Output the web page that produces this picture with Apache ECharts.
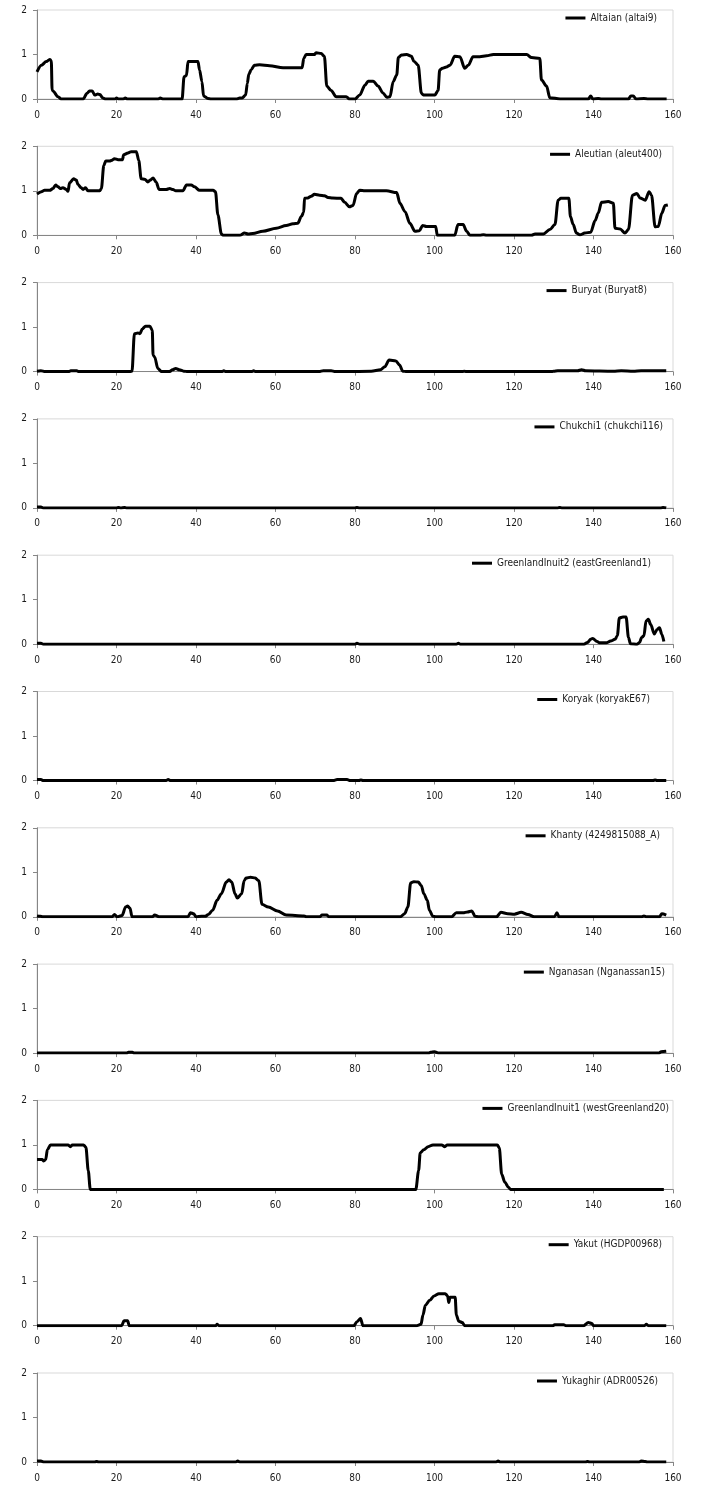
<!DOCTYPE html>
<html>
<head>
<meta charset="utf-8">
<script src="https://cdn.jsdelivr.net/npm/echarts@6/dist/echarts.min.js"></script>
<style>
  html, body { margin: 0; padding: 0; background: #fff; }
  #chart { width: 701px; height: 1488px; }
</style>
</head>
<body>
<div id="chart"></div>
<script>
// axis ranges
const X_MIN = 0, X_MAX = 160, X_STEP = 20;
const Y_MIN = 0, Y_MAX = 2, Y_STEP = 1;

const seriesNames = [
  'Altaian (altai9)',
  'Aleutian (aleut400)',
  'Buryat (Buryat8)',
  'Chukchi1 (chukchi116)',
  'GreenlandInuit2 (eastGreenland1)',
  'Koryak (koryakE67)',
  'Khanty (4249815088_A)',
  'Nganasan (Nganassan15)',
  'GreenlandInuit1 (westGreenland20)',
  'Yakut (HGDP00968)',
  'Yukaghir (ADR00526)'
];

// [position, value]
const altaian = [
  [0, 0.61], [1.1, 0.76], [2.35, 0.84], [3.2, 0.89], [3.6, 0.86], [3.8, 0.2], [4.0, 0.18], [5.3, 0.05], [6.1, 0],
  [11.6, 0], [12.6, 0.13], [13.2, 0.18], [13.9, 0.18], [14.5, 0.09], [15.3, 0.11], [15.8, 0.1], [16.6, 0.02], [17.3, 0],
  [19.6, 0], [20, 0.02], [20.5, 0], [21.7, 0], [22.2, 0.02], [22.8, 0], [30.5, 0], [31, 0.02], [31.8, 0],
  [36.5, 0], [37.0, 0.5], [37.6, 0.53], [38.0, 0.84], [40.5, 0.84], [40.9, 0.65], [41.5, 0.39], [41.9, 0.07], [43.0, 0.01], [43.8, 0],
  [50.1, 0], [51.0, 0.02], [51.6, 0.02], [52.5, 0.09], [52.9, 0.35], [53.3, 0.56], [53.9, 0.66], [54.7, 0.76], [56.0, 0.77],
  [58.5, 0.75], [61.9, 0.7], [66.7, 0.7], [67.1, 0.91], [67.7, 1.0], [69.8, 1.0], [70.2, 1.04], [71.5, 1.02], [72.3, 0.96],
  [72.9, 0.29], [74.0, 0.19], [75.3, 0.05], [77.8, 0.05], [78.6, 0], [80.0, 0], [81.2, 0.09], [82.5, 0.31], [83.3, 0.4],
  [84.6, 0.4], [85.8, 0.29], [87.1, 0.13], [88.0, 0.04], [88.8, 0.05], [89.6, 0.39], [90.5, 0.54], [90.9, 0.93], [91.7, 0.99],
  [93.0, 1.0], [94.2, 0.96], [94.8, 0.85], [95.9, 0.76], [96.7, 0.13], [97.2, 0.09], [100.1, 0.09], [100.9, 0.19], [101.3, 0.65],
  [102.0, 0.69], [103.0, 0.72], [103.9, 0.76], [105.1, 0.96], [106.4, 0.95], [107.6, 0.69], [108.5, 0.76], [109.7, 0.95],
  [111.4, 0.95], [113.1, 0.97], [114.8, 1.0], [123.2, 1.0], [124.4, 0.93], [126.5, 0.91], [126.9, 0.43], [128.2, 0.29],
  [129.0, 0.03], [131.6, 0], [138.7, 0], [139.3, 0.07], [139.8, 0], [141.2, 0.01], [142, 0], [148.8, 0], [149.4, 0.07],
  [150.0, 0.07], [150.7, 0], [152.7, 0.01], [153.8, 0], [158.4, 0]
];

const aleutian = [
  [0, 0.93], [1.1, 0.98], [1.9, 1.01], [3.2, 1.01], [4.0, 1.05], [4.7, 1.13], [5.3, 1.09], [5.9, 1.05], [6.5, 1.07],
  [7.4, 1.03], [7.8, 0.99], [8.2, 1.18], [9.2, 1.27], [9.9, 1.24], [10.3, 1.14], [11.1, 1.07], [11.6, 1.03], [12.2, 1.07],
  [12.8, 1.0], [15.8, 1.0], [16.2, 1.05], [16.8, 1.57], [17.3, 1.67], [18.3, 1.67], [18.7, 1.68], [19.5, 1.72], [20.4, 1.7],
  [21.5, 1.7], [21.8, 1.81], [22.9, 1.85], [23.7, 1.88], [25.0, 1.88], [25.6, 1.68], [26.2, 1.27], [27.1, 1.26], [27.9, 1.2],
  [28.5, 1.24], [29.2, 1.29], [30.0, 1.19], [30.7, 1.03], [32.5, 1.03], [33.4, 1.05], [34.2, 1.03], [34.9, 1.0], [36.7, 1.0],
  [37.6, 1.13], [38.8, 1.13], [39.6, 1.09], [40.9, 1.01], [44.3, 1.01], [44.9, 0.98], [45.5, 0.46], [46.4, 0.03], [46.8, 0],
  [51.0, 0], [52.2, 0.05], [53.1, 0.03], [54.3, 0.04], [56.8, 0.09], [60.2, 0.16], [62.7, 0.22], [64.4, 0.26], [65.6, 0.27],
  [66.5, 0.42], [67.1, 0.52], [67.3, 0.83], [68.1, 0.84], [69.0, 0.88], [69.8, 0.92], [71.1, 0.9], [72.3, 0.89], [73.2, 0.85],
  [74.4, 0.84], [76.5, 0.83], [77.4, 0.74], [78.6, 0.64], [79.5, 0.67], [80.4, 0.94], [81.2, 1.01], [82.5, 1.0], [87.9, 1.0],
  [90.5, 0.96], [91.3, 0.72], [92.6, 0.53], [93.8, 0.27], [95.1, 0.09], [96.2, 0.1], [97.0, 0.22], [98.0, 0.2], [100.3, 0.2],
  [100.7, 0], [105.1, 0], [105.9, 0.24], [107.2, 0.24], [108.1, 0.09], [108.9, 0], [111.4, 0], [112.3, 0.01], [113.1, 0],
  [124.4, 0], [125.3, 0.03], [127.4, 0.03], [129.0, 0.13], [130.3, 0.24], [131.1, 0.79], [131.8, 0.83], [133.8, 0.83],
  [134.2, 0.42], [134.9, 0.24], [135.7, 0.05], [136.6, 0.01], [137.8, 0.05], [139.3, 0.07], [140.4, 0.33], [141.2, 0.5],
  [142.0, 0.74], [143.7, 0.76], [145.0, 0.72], [145.4, 0.16], [146.7, 0.14], [147.9, 0.05], [148.8, 0.13], [149.8, 0.9],
  [150.9, 0.94], [151.7, 0.84], [153.0, 0.79], [154.0, 0.98], [154.6, 0.9], [155.5, 0.19], [156.3, 0.2], [157.2, 0.5],
  [158.0, 0.67], [158.7, 0.68]
];

const buryat = [
  [0, 0.01], [1, 0.02], [2, 0], [8, 0], [8.5, 0.02], [10, 0.02], [10.5, 0], [23.4, 0], [23.9, 0.01], [24.5, 0.85],
  [25.4, 0.87], [25.9, 0.85], [26.5, 0.96], [27.3, 1.02], [28.4, 1.02], [29.0, 0.93], [29.2, 0.37], [29.6, 0.33],
  [30.4, 0.07], [31.3, 0], [33.3, 0], [34.1, 0.04], [34.9, 0.07], [35.8, 0.04], [36.9, 0.01], [38, 0], [46.5, 0],
  [47, 0.02], [47.5, 0], [54, 0], [54.5, 0.02], [55, 0], [71, 0], [72, 0.02], [74, 0.02], [75, 0], [84.1, 0.01],
  [86.4, 0.04], [87.5, 0.11], [88.6, 0.26], [90.3, 0.24], [91.2, 0.15], [92.0, 0.01], [93.1, 0], [107, 0], [107.5, 0.01],
  [108, 0], [129.5, 0], [130, 0.01], [131, 0.02], [136, 0.02], [137, 0.04], [138, 0.02], [145, 0.01], [147, 0.02], [150, 0.01],
  [152, 0.02], [155, 0.02], [158.3, 0.02]
];

const chukchi = [
  [0, 0.02], [1, 0.02], [1.6, 0], [20, 0], [20.5, 0.01], [21, 0], [22, 0.01], [22.5, 0], [80, 0], [80.5, 0.01], [81, 0],
  [131, 0], [131.5, 0.01], [132, 0], [157, 0], [157.5, 0.01], [158.3, 0]
];

const eastGreenland = [
  [0, 0.02], [1, 0.02], [1.6, 0], [80, 0], [80.5, 0.02], [81.2, 0], [105.5, 0], [106, 0.02], [106.5, 0], [137.6, 0],
  [138.5, 0.04], [139.3, 0.11], [139.8, 0.13], [140.9, 0.06], [141.5, 0.03], [143.2, 0.03], [144.3, 0.07], [145.4, 0.11],
  [146.0, 0.19], [146.5, 0.59], [147.4, 0.61], [148.2, 0.61], [148.8, 0.15], [149.3, 0.01], [151.0, 0], [151.6, 0.04],
  [152.1, 0.15], [152.7, 0.19], [153.2, 0.52], [153.8, 0.56], [154.4, 0.44], [155.3, 0.23], [156.0, 0.33], [156.6, 0.37],
  [157.2, 0.22], [157.7, 0.06]
];

const koryak = [
  [0, 0.02], [1, 0.02], [1.6, 0], [32.5, 0], [33, 0.02], [33.6, 0], [74.5, 0], [75.5, 0.02], [78, 0.02], [78.8, 0],
  [81, 0], [81.5, 0.01], [82, 0], [155, 0], [155.5, 0.01], [156, 0], [158.3, 0]
];

const khanty = [
  [0, 0.02], [0.8, 0.01], [1.5, 0], [18.9, 0], [19.5, 0.05], [20.2, 0], [21.4, 0.03], [22.3, 0.22], [22.8, 0.24],
  [23.4, 0.19], [23.9, 0], [29.0, 0], [29.6, 0.04], [30.7, 0], [38.0, 0], [38.6, 0.09], [39.4, 0.07], [40.0, 0],
  [41.4, 0.01], [42.3, 0.01], [43.1, 0.05], [44.2, 0.15], [45.3, 0.37], [46.4, 0.52], [47.6, 0.78], [48.3, 0.83],
  [49.0, 0.78], [49.8, 0.52], [50.4, 0.42], [51.5, 0.52], [52.1, 0.81], [52.6, 0.87], [53.7, 0.89], [54.9, 0.87],
  [55.8, 0.81], [56.6, 0.28], [58.2, 0.22], [60.5, 0.13], [62.7, 0.04], [67.2, 0.02], [67.8, 0], [71.2, 0], [71.7, 0.04],
  [72.9, 0.04], [73.4, 0], [91.4, 0], [92.5, 0.07], [93.3, 0.22], [94.0, 0.76], [94.8, 0.79], [95.9, 0.78], [96.7, 0.7],
  [97.3, 0.52], [98.2, 0.37], [98.7, 0.15], [99.6, 0.01], [100.4, 0], [104.3, 0], [105.5, 0.09], [107.2, 0.09],
  [108.3, 0.11], [109.4, 0.13], [110.2, 0.01], [111.1, 0], [115.6, 0], [116.7, 0.1], [118.4, 0.07], [120.1, 0.06],
  [121.8, 0.1], [123.5, 0.05], [125.1, 0], [130.2, 0], [130.8, 0.09], [131.3, 0], [152.2, 0], [152.7, 0.02], [153.2, 0],
  [156.6, 0], [157.2, 0.07], [158.3, 0.04]
];

const nganasan = [
  [0, 0], [22.5, 0], [23, 0.02], [24, 0.02], [24.5, 0], [98.5, 0], [99, 0.02], [100, 0.03], [101, 0], [156.5, 0],
  [157, 0.03], [158.3, 0.04]
];

const westGreenland = [
  [0, 0.67], [1.3, 0.67], [1.7, 0.64], [2.2, 0.67], [2.6, 0.89], [3.4, 1.0], [7.8, 1.0], [8.4, 0.96], [8.9, 1.0],
  [11.7, 1.0], [12.3, 0.95], [12.9, 0.42], [13.4, 0], [95.3, 0], [96.0, 0.42], [96.4, 0.82], [97.3, 0.89], [98.4, 0.96],
  [99.6, 1.0], [101.8, 1.0], [102.6, 0.96], [103.2, 1.0], [115.8, 1.0], [116.3, 0.93], [116.9, 0.34], [117.7, 0.16],
  [118.6, 0.05], [119.1, 0], [157.7, 0]
];

const yakut = [
  [0, 0], [21.3, 0], [21.9, 0.11], [22.8, 0.11], [23.2, 0], [45.0, 0], [45.3, 0.03], [45.8, 0], [79.7, 0], [80.5, 0.09],
  [81.4, 0.16], [82.0, 0], [95.4, 0], [96.6, 0.03], [97.1, 0.24], [97.7, 0.46], [98.8, 0.57], [99.9, 0.67], [101.1, 0.72],
  [102.7, 0.72], [103.3, 0.67], [103.6, 0.52], [103.9, 0.64], [105.2, 0.64], [105.5, 0.24], [106.1, 0.1], [107.0, 0.07],
  [107.6, 0], [129.8, 0], [130.2, 0.02], [132.5, 0.02], [133.1, 0], [137.5, 0], [138.7, 0.07], [139.6, 0.05], [140.0, 0],
  [152.8, 0], [153.3, 0.03], [153.8, 0], [158.3, 0]
];

const yukaghir = [
  [0, 0.02], [1, 0.02], [1.8, 0], [14.5, 0], [15, 0.01], [15.5, 0], [50, 0], [50.5, 0.02], [51, 0], [115.5, 0],
  [116, 0.02], [116.6, 0], [138, 0], [138.5, 0.01], [139, 0], [151.5, 0], [152, 0.02], [153, 0.01], [153.5, 0], [158.3, 0]
];

const panelData = [altaian, aleutian, buryat, chukchi, eastGreenland, koryak, khanty, nganasan, westGreenland, yakut, yukaghir];

// layout
const FONT = "'Liberation Sans Narrow', 'DejaVu Sans Condensed', 'Noto Sans', sans-serif";
const legendRight = [44, 39, 54, 38, 50, 51, 41, 36, 32, 39, 43];
const PANEL_TOP = 10, PANEL_STEP = 136.3, PANEL_H = 89;

const chart = echarts.init(document.getElementById('chart'));

const grids = [], xAxes = [], yAxes = [], series = [], legends = [];
panelData.forEach((data, i) => {
  const top = PANEL_TOP + i * PANEL_STEP;
  grids.push({
    left: 37, right: 28, top: top, height: PANEL_H,
    show: true, borderColor: '#d9d9d9', borderWidth: 1
  });
  xAxes.push({
    type: 'value', gridIndex: i, min: X_MIN, max: X_MAX, interval: X_STEP,
    axisLine: { show: true, onZero: false, lineStyle: { color: '#868686', width: 1 } },
    axisTick: { show: true, length: 4, lineStyle: { color: '#868686' } },
    axisLabel: { fontSize: 10, color: '#1a1a1a', margin: 11, fontFamily: FONT, showMinLabel: true, showMaxLabel: true },
    splitLine: { show: false }
  });
  yAxes.push({
    type: 'value', gridIndex: i, min: Y_MIN, max: Y_MAX, interval: Y_STEP,
    axisLine: { show: true, lineStyle: { color: '#868686', width: 1 } },
    axisTick: { show: true, length: 4, lineStyle: { color: '#868686' } },
    axisLabel: { fontSize: 10, color: '#1a1a1a', margin: 10, fontFamily: FONT },
    splitLine: { show: false }
  });
  series.push({
    name: seriesNames[i], type: 'line', xAxisIndex: i, yAxisIndex: i, data: data,
    showSymbol: false, smooth: 0.3, smoothMonotone: 'x',
    lineStyle: { color: '#000', width: 3 }, itemStyle: { color: '#000' }
  });
  legends.push({
    data: [seriesNames[i]], right: legendRight[i], top: top + 3, padding: 0,
    icon: 'rect', itemWidth: 20, itemHeight: 3, itemGap: 2,
    textStyle: { fontSize: 10, color: '#1a1a1a', fontFamily: FONT }
  });
});

chart.setOption({
  animation: false,
  backgroundColor: '#fff',
  grid: grids,
  xAxis: xAxes,
  yAxis: yAxes,
  legend: legends,
  series: series
});
</script>
</body>
</html>
